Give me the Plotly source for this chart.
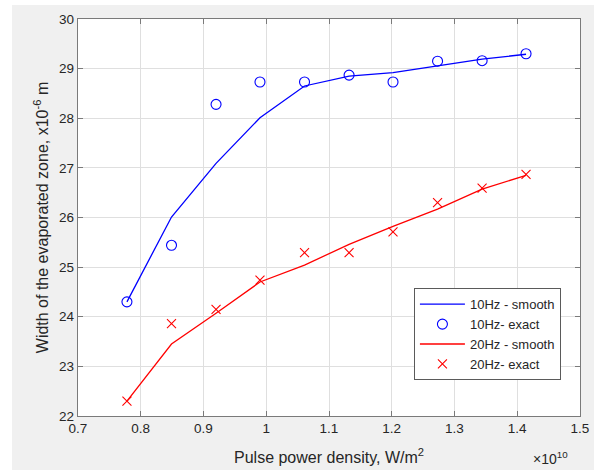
import plotly.graph_objects as go

# Pulse power density (x 1e10 W/m^2)
power_density = [0.778, 0.849, 0.920, 0.990, 1.061, 1.132, 1.202, 1.273, 1.344, 1.414]

# Width of evaporated zone (x 1e-6 m)
w10_smooth = [24.30, 26.01, 27.09, 28.01, 28.65, 28.85, 28.92, 29.05, 29.19, 29.29]
w10_exact = [24.30, 25.44, 28.28, 28.73, 28.73, 28.87, 28.73, 29.15, 29.16, 29.30]
w20_smooth = [22.30, 23.45, 24.07, 24.70, 25.04, 25.46, 25.82, 26.17, 26.57, 26.85]
w20_exact = [22.30, 23.86, 24.15, 24.74, 25.29, 25.29, 25.71, 26.30, 26.59, 26.87]

x_ticks = [0.7, 0.8, 0.9, 1.0, 1.1, 1.2, 1.3, 1.4, 1.5]
x_ticklabels = ["0.7", "0.8", "0.9", "1", "1.1", "1.2", "1.3", "1.4", "1.5"]
y_ticks = [22, 23, 24, 25, 26, 27, 28, 29, 30]

BLUE = "#0000ff"
RED = "#ff0000"
TXT = "#262626"
FONT = "Liberation Sans, Arial, sans-serif"

fig = go.Figure()
fig.add_trace(go.Scatter(x=power_density, y=w10_smooth, mode="lines",
                         line=dict(color=BLUE, width=1.3), name="10Hz - smooth"))
fig.add_trace(go.Scatter(x=power_density, y=w10_exact, mode="markers",
                         marker=dict(symbol="circle-open", color=BLUE, size=10,
                                     line=dict(width=1.1, color=BLUE)),
                         name="10Hz- exact"))
fig.add_trace(go.Scatter(x=power_density, y=w20_smooth, mode="lines",
                         line=dict(color=RED, width=1.3), name="20Hz - smooth"))
fig.add_trace(go.Scatter(x=power_density, y=w20_exact, mode="markers",
                         marker=dict(symbol="x-thin-open", color=RED, size=9,
                                     line=dict(width=1.1, color=RED)),
                         name="20Hz- exact"))

axis_common = dict(
    showgrid=True, gridcolor="#dfdfdf", gridwidth=1,
    showline=True, linecolor="#7a7a7a", linewidth=1.3, mirror="ticks",
    ticks="inside", ticklen=5, tickcolor="#7a7a7a", tickwidth=1,
    zeroline=False, automargin=False,
    tickfont=dict(family=FONT, size=13.5, color=TXT),
)

fig.update_layout(
    width=594, height=470,
    margin=dict(l=78, r=14, t=19, b=54, autoexpand=False),
    paper_bgcolor="#f0f0f0", plot_bgcolor="#ffffff",
    font=dict(family=FONT, size=13, color=TXT),
    xaxis=dict(range=[0.7, 1.5], tickvals=x_ticks, ticktext=x_ticklabels,
               title=dict(text="Pulse power density, W/m<sup>2</sup>",
                          font=dict(family=FONT, size=16, color=TXT), standoff=16),
               **axis_common),
    yaxis=dict(range=[22, 30], tickvals=y_ticks,
               title=dict(text="Width of the evaporated zone, x10<sup>-6</sup> m",
                          font=dict(family=FONT, size=16, color=TXT), standoff=6),
               **axis_common),
    legend=dict(x=0.962, y=0.09, xanchor="right", yanchor="bottom",
                bgcolor="#ffffff", bordercolor="#5a5a5a", borderwidth=1,
                font=dict(family=FONT, size=13, color=TXT), tracegroupgap=0,
                itemwidth=45),
    showlegend=True,
)

fig.add_annotation(text="×10<sup>10</sup>", xref="paper", yref="paper",
                   x=0.98, y=-0.078, xanchor="right", yanchor="top", showarrow=False,
                   font=dict(family=FONT, size=14, color=TXT))

# white strips at the left and top of the image (outside the grey figure)
fig.add_shape(type="rect", xref="paper", yref="paper", x0=-0.16, x1=-0.1315,
              y0=-0.2, y1=1.1, fillcolor="#ffffff", line=dict(width=0), layer="above")
fig.add_shape(type="rect", xref="paper", yref="paper", x0=-0.16, x1=1.1,
              y0=1.035, y1=1.1, fillcolor="#ffffff", line=dict(width=0), layer="above")

fig.write_html("out.html")
